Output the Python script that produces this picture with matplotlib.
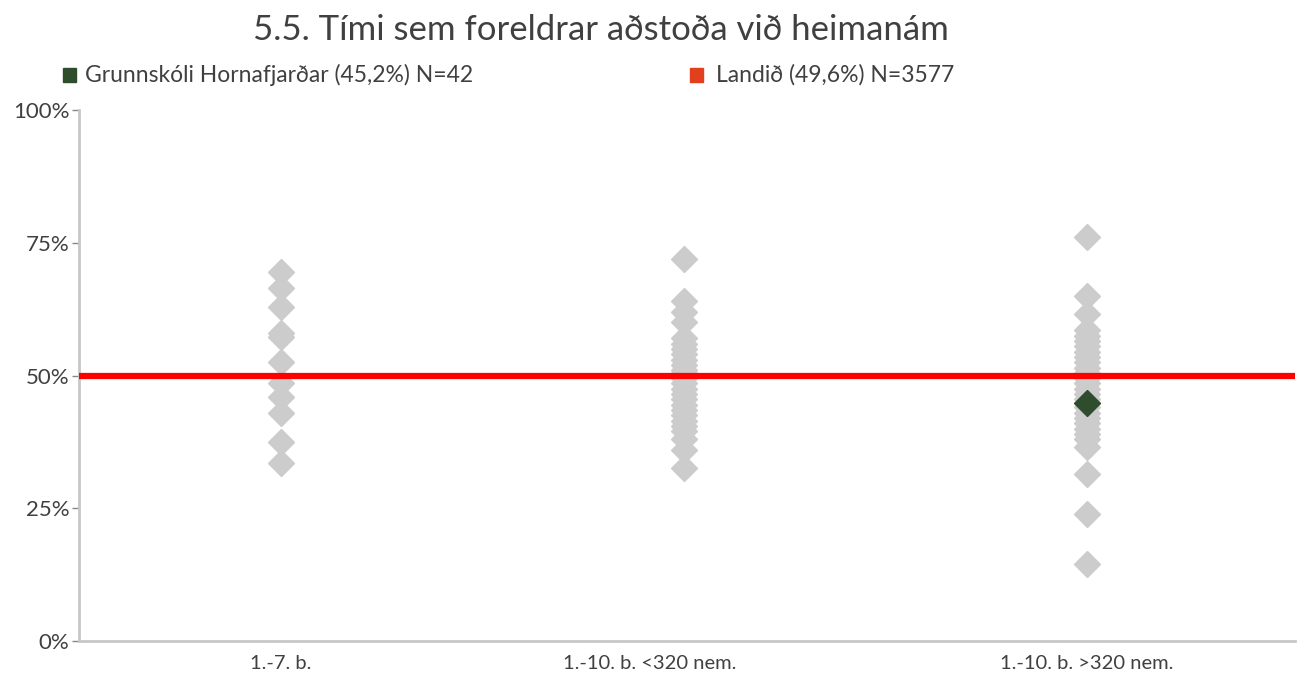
import matplotlib
matplotlib.use("Agg")
import matplotlib.pyplot as plt
from matplotlib.patches import Rectangle

plt.rcParams['font.family'] = ['Lato', 'DejaVu Sans']

title = "5.5. Tími sem foreldrar aðstoða við heimanám"
categories = ["1.-7. b.", "1.-10. b. <320 nem.", "1.-10. b. >320 nem."]

# school values (%) per group
grp1 = [69.5, 66.5, 63, 58, 57.3, 52.5, 48.5, 46, 43, 37.5, 33.5]
grp2 = [72, 64, 62, 60, 57, 56, 55, 54, 53, 52, 51, 50.5, 49.5, 48.5, 47.5,
        46.5, 45.5, 44.5, 43.5, 42.5, 41.5, 40.5, 39.5, 38, 36, 32.5]
grp3 = [76, 65, 61.5, 58.5, 57.5, 56.5, 55.5, 54.5, 53.5, 52.5, 51.5, 50.5,
        49.5, 48.5, 47.5, 46.5, 45.5, 44, 43, 42, 41, 40, 39, 38, 36.5,
        31.5, 24, 14.5]
school_val = 44.8
national_val = 50.0
school_label = "Grunnskóli Hornafjarðar (45,2%) N=42"
national_label = "Landið (49,6%) N=3577"

xpos = [0.5, 1.5, 2.5]
label_pos = [0.5, 1.415, 2.5]

fig = plt.figure(figsize=(13.04, 6.73), dpi=100)
ax = fig.add_axes([0.0606, 0.0475, 0.9324, 0.789])

gray = "#CCCCCC"
for x, vals in zip(xpos, [grp1, grp2, grp3]):
    ax.plot([x] * len(vals), vals, linestyle="none", marker="D", ms=13,
            color=gray, mec=gray, zorder=2)

ax.axhline(national_val, color="#FF0000", lw=4.5, zorder=3)
ax.plot([xpos[2]], [school_val], linestyle="none", marker="D", ms=13,
        color="#2F4D2D", zorder=4)

ax.set_xlim(0, 3.017)
ax.set_ylim(0, 100)
ax.set_yticks([0, 25, 50, 75, 100])
ax.set_yticklabels(["0%", "25%", "50%", "75%", "100%"])
ax.set_xticks(label_pos)
ax.set_xticklabels(categories)

for s in ["top", "right"]:
    ax.spines[s].set_visible(False)
for s in ["left", "bottom"]:
    ax.spines[s].set_color("#C8C8C8")
    ax.spines[s].set_linewidth(2)
ax.tick_params(axis="y", length=5, width=1, color="#888888",
               labelsize=16, labelcolor="#404040", pad=2)
ax.tick_params(axis="x", length=0, labelsize=14.5, labelcolor="#404040",
               pad=10)

fig.text(0.461, 0.956, title, ha="center", va="center", fontsize=25,
         color="#404040")

# legend
fig.patches.append(Rectangle((63 / 1304, 1 - 82 / 673), 13 / 1304, 14 / 673,
                             transform=fig.transFigure, color="#2F4D2D"))
fig.text(85 / 1304, 1 - 75 / 673, school_label, ha="left", va="center",
         fontsize=16.5, color="#404040")
fig.patches.append(Rectangle((690 / 1304, 1 - 82 / 673), 13 / 1304, 14 / 673,
                             transform=fig.transFigure, color="#E0401C"))
fig.text(716 / 1304, 1 - 75 / 673, national_label, ha="left", va="center",
         fontsize=16.5, color="#404040")

fig.savefig("out.png", dpi=100)
